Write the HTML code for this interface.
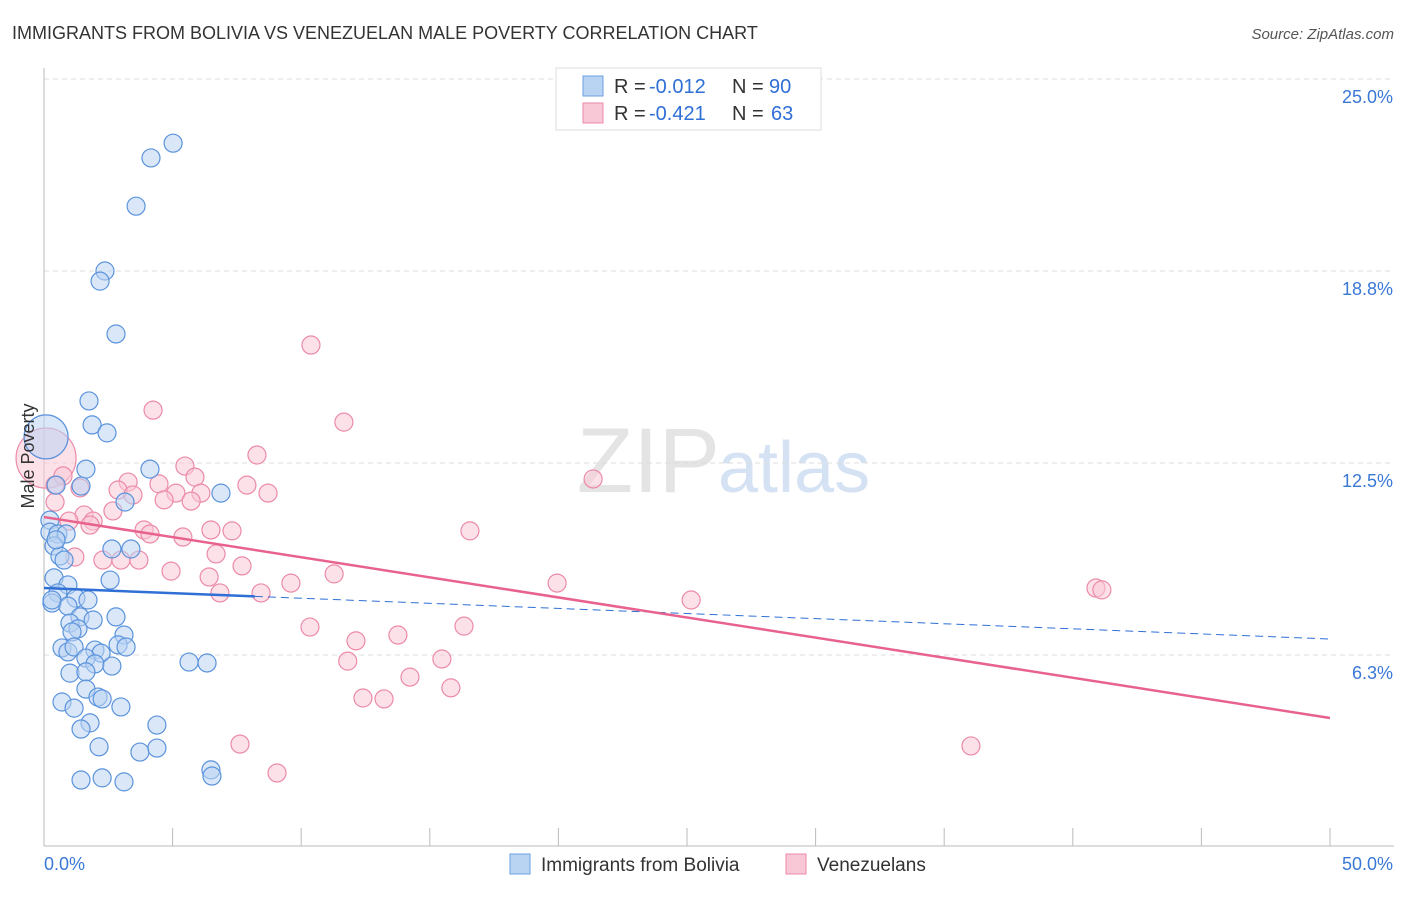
<!DOCTYPE html>
<html><head><meta charset="utf-8"><style>
body{margin:0;background:#fff;font-family:"Liberation Sans",sans-serif;}
svg text{font-family:"Liberation Sans",sans-serif;}
</style></head><body>
<svg id="chart" width="1406" height="892">
<text x="12" y="39" font-size="18" fill="#333">IMMIGRANTS FROM BOLIVIA VS VENEZUELAN MALE POVERTY CORRELATION CHART</text>
<text x="1394" y="39" font-size="15" fill="#555" font-style="italic" text-anchor="end">Source: ZipAtlas.com</text>
<text x="720" y="492" font-size="92" fill="#e4e4e4" text-anchor="end" font-family="Liberation Serif">ZIP</text>
<text x="718" y="492" font-size="72" fill="#d4e2f4">atlas</text>
<g id="grid"></g><g id="axes"></g><g id="pts"></g><g id="trends"></g>
<text transform="translate(34,456) rotate(-90)" font-size="18" fill="#333" text-anchor="middle">Male Poverty</text>
<g>
<rect x="556" y="68" width="265" height="62" fill="#fff" stroke="#ddd"/>
<rect x="583" y="76" width="20" height="20" fill="#b9d3f3" stroke="#6a9fe0"/>
<rect x="583" y="103" width="20" height="20" fill="#f9c8d6" stroke="#ec8aa8"/>
<text y="93" font-size="20" fill="#333"><tspan x="614">R =</tspan><tspan x="649" fill="#2f6fd6">-0.012</tspan><tspan x="732">N =</tspan><tspan x="769" fill="#2f6fd6">90</tspan></text>
<text y="120" font-size="20" fill="#333"><tspan x="614">R =</tspan><tspan x="649" fill="#2f6fd6">-0.421</tspan><tspan x="732">N =</tspan><tspan x="771" fill="#2f6fd6">63</tspan></text>
</g>
<g>
<rect x="510" y="854" width="20" height="20" fill="#b9d3f3" stroke="#6a9fe0"/>
<text x="541" y="871" font-size="19" fill="#333">Immigrants from Bolivia</text>
<rect x="786" y="854" width="20" height="20" fill="#f9c8d6" stroke="#ec8aa8"/>
<text x="817" y="871" font-size="19" fill="#333">Venezuelans</text>
</g>
</svg>
<script>
const xTicks=[0,5,10,15,20,25,30,35,40,45,50];
const yTicks=[6.25,12.5,18.75,25];
const yTickLabels=["6.3%","12.5%","18.8%","25.0%"];
const xEndLabels=["0.0%","50.0%"];
const boliviaX=[5.02,4.16,3.58,2.37,2.18,2.80,1.75,1.87,2.45,1.63,4.12,0.47,1.44,6.88,3.15,0.23,0.23,0.54,0.86,0.39,0.62,2.64,3.38,0.39,0.93,2.57,0.54,1.24,1.71,0.31,0.93,1.40,1.91,2.80,1.01,1.32,1.09,3.11,2.88,3.19,0.70,0.93,1.17,1.98,2.22,1.63,1.98,2.64,1.01,1.63,5.64,6.34,1.63,2.10,2.26,0.70,1.17,2.99,1.79,1.44,4.39,2.14,3.73,4.39,6.49,6.53,1.44,2.26,3.11,0.31,0.78,0.47];
const boliviaY=[22.91,22.43,20.86,18.75,18.42,16.70,14.52,13.74,13.48,12.30,12.30,11.78,11.75,11.52,11.23,10.64,10.25,10.19,10.19,9.80,9.47,9.70,9.70,8.76,8.53,8.69,8.27,8.10,8.04,7.94,7.84,7.49,7.39,7.49,7.29,7.10,7.00,6.90,6.58,6.51,6.48,6.35,6.51,6.41,6.31,6.15,5.96,5.89,5.66,5.70,6.02,5.99,5.14,4.88,4.82,4.72,4.52,4.56,4.04,3.84,3.97,3.26,3.09,3.22,2.51,2.31,2.18,2.25,2.12,8.04,9.34,10.0];
const venX=[10.38,4.24,11.66,8.28,21.35,5.48,5.87,3.27,4.47,7.89,0.74,1.40,2.88,3.46,5.13,6.10,8.71,4.67,5.72,0.43,2.68,1.56,1.91,0.97,1.79,3.89,4.12,6.49,7.31,16.56,5.40,6.69,1.20,2.29,2.99,3.69,7.70,4.94,11.28,6.42,9.60,19.95,40.90,41.13,6.84,8.44,25.16,10.34,16.33,12.13,13.76,11.81,15.47,14.23,15.82,12.40,13.22,7.62,9.06,36.04,0.43];
const venY=[16.34,14.22,13.83,12.76,11.98,12.40,12.04,11.88,11.82,11.78,12.08,11.69,11.62,11.46,11.52,11.52,11.52,11.30,11.26,11.23,10.94,10.81,10.61,10.61,10.48,10.32,10.19,10.32,10.29,10.29,10.09,9.54,9.44,9.34,9.34,9.34,9.15,8.98,8.89,8.79,8.59,8.59,8.43,8.37,8.27,8.27,8.04,7.16,7.19,6.71,6.90,6.05,6.12,5.53,5.18,4.85,4.82,3.35,2.41,3.29,11.78];
const bigBolivia=[0.08,13.35];
const bigVen=[0.08,12.66];
const boliviaTrend=[8.43,6.77];
const venTrend=[10.74,4.20];
const X=v=>44+v/50*1286, Y=v=>847-v/6.25*192;
const NS="http://www.w3.org/2000/svg";
function mk(tag,attrs,parent){const e=document.createElementNS(NS,tag);for(const k in attrs)e.setAttribute(k,attrs[k]);document.getElementById(parent).appendChild(e);return e;}
yTicks.forEach((t,i)=>{
 const l=mk('line',{x1:44,x2:1394,y1:Y(t),y2:Y(t),stroke:'#ddd','stroke-dasharray':'5,4'},'grid');
 
 
 const tx=mk('text',{x:1393,y:Y(t)+24,'font-size':18,fill:'#3a78d6','text-anchor':'end'},'grid');tx.textContent=yTickLabels[i];
 
 
});
const ax=mk('line',{x1:44,x2:44,y1:68,y2:846,stroke:'#bbb'},'axes');


const bx=mk('line',{x1:44,x2:1394,y1:846,y2:846,stroke:'#bbb'},'axes');


xTicks.forEach(t=>{const l=mk('line',{x1:X(t),x2:X(t),y1:828,y2:846,stroke:'#bbb'},'axes');
 
 });
[[0,'start'],[50,'end']].forEach((p,i)=>{const t=mk('text',{x:i?1393:44,y:870,'font-size':18,fill:'#3a78d6','text-anchor':p[1]},'axes');t.textContent=xEndLabels[i];
 
 });
function pt(x,y,r,fill,stroke,name){const c=mk('circle',{cx:X(x),cy:Y(y),r:r,fill:fill,'fill-opacity':0.55,stroke:stroke,'stroke-width':1.2},'pts');
 
 }
pt(bigVen[0],bigVen[1],30,'#f9c8d6','#ec8aa8','venezuelan-point-large');
pt(bigBolivia[0],bigBolivia[1],22,'#b9d3f3','#5b93dc','bolivia-point-large');
venX.forEach((x,i)=>pt(x,venY[i],9,'#f9c8d6','#ec8aa8','venezuelan-point'));
boliviaX.forEach((x,i)=>pt(x,boliviaY[i],9,'#b9d3f3','#5b93dc','bolivia-point'));
const bt=v=>boliviaTrend[0]+(boliviaTrend[1]-boliviaTrend[0])*v/50;
let l1=mk('line',{x1:X(0),y1:Y(bt(0)),x2:X(8.2),y2:Y(bt(8.2)),stroke:'#2f6fd6','stroke-width':2.5},'trends');


let l2=mk('line',{x1:X(8.2),y1:Y(bt(8.2)),x2:X(50),y2:Y(bt(50)),stroke:'#2f6fd6','stroke-width':1,'stroke-dasharray':'8,5'},'trends');


let l3=mk('line',{x1:X(0),y1:Y(venTrend[0]),x2:X(50),y2:Y(venTrend[1]),stroke:'#e8628e','stroke-width':2.5},'trends');


</script>
</body></html>
